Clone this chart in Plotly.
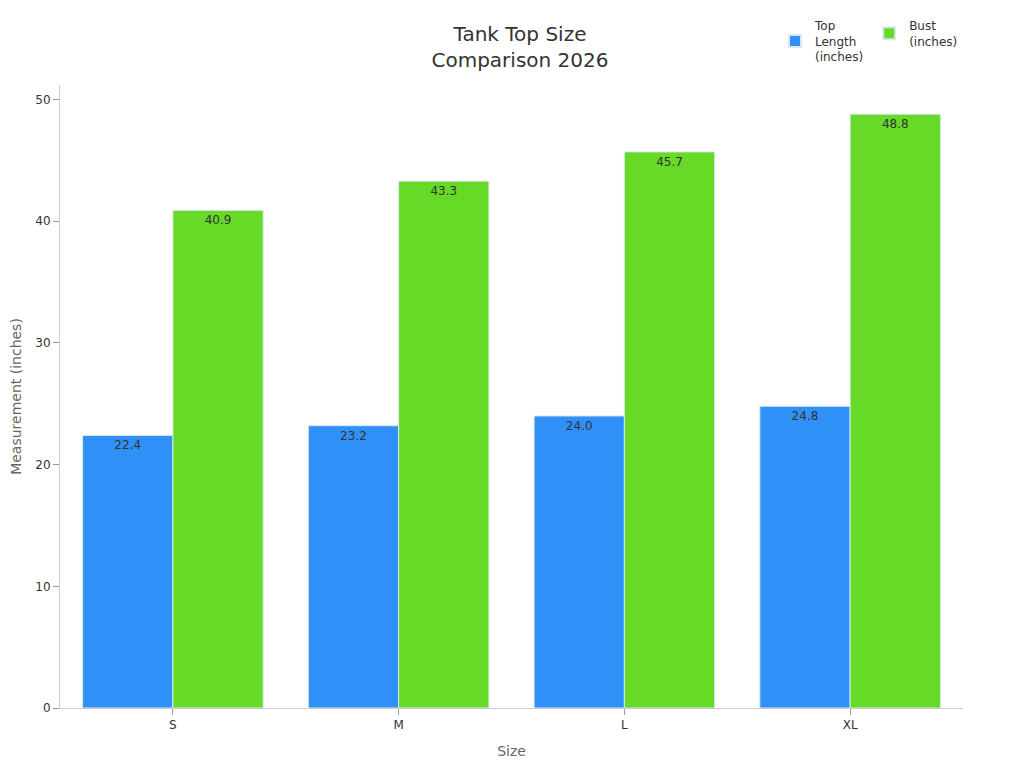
import plotly.graph_objects as go

sizes = ["S", "M", "L", "XL"]
top_length = [22.4, 23.2, 24.0, 24.8]
bust = [40.9, 43.3, 45.7, 48.8]

font_family = "DejaVu Sans"

fig = go.Figure()
fig.add_trace(go.Bar(
    x=sizes,
    y=top_length,
    name="Top<br>Length<br>(inches)",
    marker=dict(color="#2F91F8", line=dict(color="#D8E8F0", width=1)),
    text=[f"{v:.1f}" for v in top_length],
    textposition="inside",
    insidetextanchor="end",
    textfont=dict(color="#333333", size=12),
))
fig.add_trace(go.Bar(
    x=sizes,
    y=bust,
    name="Bust<br>(inches)",
    marker=dict(color="#66DA26", line=dict(color="#D8E8F0", width=1)),
    text=[f"{v:.1f}" for v in bust],
    textposition="inside",
    insidetextanchor="end",
    textfont=dict(color="#333333", size=12),
))

fig.update_layout(
    width=1024,
    height=768,
    font=dict(family=font_family, size=12, color="#333333"),
    title=dict(
        text="Tank Top Size<br>Comparison 2026",
        x=0.5,
        xanchor="center",
        y=0.957,
        yanchor="top",
        font=dict(size=20, color="#333333"),
    ),
    barmode="group",
    bargap=0.2,
    bargroupgap=0,
    plot_bgcolor="white",
    paper_bgcolor="white",
    margin=dict(l=52, r=69, t=77, b=68),
    legend=dict(
        orientation="h",
        x=1.0,
        xanchor="right",
        yref="container",
        y=0.996,
        yanchor="top",
        font=dict(size=12),
        itemsizing="constant",
    ),
    uniformtext=dict(mode="show", minsize=12),
    xaxis=dict(
        title=dict(text="Size", font=dict(size=14, color="#666666"), standoff=14),
        showline=True,
        linecolor="#CCCCCC",
        ticks="outside",
        tickcolor="#999999",
        ticklen=6,
        showgrid=False,
        automargin=False,
    ),
    yaxis=dict(
        title=dict(text="Measurement (inches)", font=dict(size=14, color="#666666")),
        range=[0, 51.2],
        dtick=10,
        showline=True,
        linecolor="#CCCCCC",
        ticks="outside",
        tickcolor="#999999",
        ticklen=6,
        showgrid=False,
        zeroline=False,
        automargin=False,
    ),
)

fig.write_html("out.html")
